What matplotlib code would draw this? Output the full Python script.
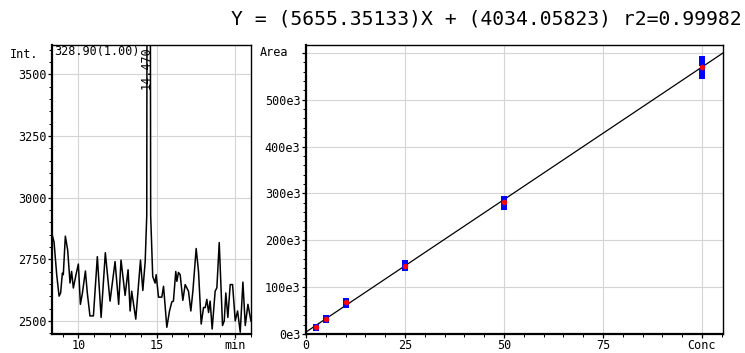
import matplotlib.pyplot as plt
import numpy as np
from matplotlib.ticker import MultipleLocator, FixedLocator, FixedFormatter

plt.rcParams['font.family'] = ['DejaVu Sans Mono']

# chromatogram trace (time in min, intensity)
rt = [8.34, 8.45, 8.62, 8.77, 8.87, 8.98, 9.04, 9.17, 9.32, 9.47, 9.57, 9.68, 9.85,
      10.0, 10.13, 10.26, 10.45, 10.57, 10.74, 10.96, 11.21, 11.45, 11.72, 12.02,
      12.34, 12.57, 12.72, 12.98, 13.17, 13.30, 13.40, 13.66, 13.96, 14.11, 14.26,
      14.36, 14.47, 14.61, 14.74, 14.89, 14.96, 15.11, 15.32, 15.43, 15.64, 15.81,
      15.96, 16.06, 16.21, 16.28, 16.38, 16.49, 16.66, 16.81, 17.02, 17.17, 17.30,
      17.51, 17.66, 17.83, 17.98, 18.09, 18.19, 18.30, 18.40, 18.53, 18.72, 18.83,
      18.98, 19.19, 19.30, 19.40, 19.53, 19.68, 19.83, 20.00, 20.15, 20.32, 20.49,
      20.64, 20.81, 21.00]
inten = [2847, 2820, 2688, 2601, 2614, 2694, 2688, 2844, 2787, 2654, 2701, 2634, 2688,
         2731, 2568, 2614, 2703, 2614, 2521, 2521, 2761, 2515, 2777, 2581,
         2741, 2568, 2747, 2604, 2708, 2541, 2621, 2508, 2747, 2624, 2741,
         2927, 9000, 2927, 2681, 2654, 2688, 2597, 2597, 2641, 2475, 2541,
         2578, 2581, 2701, 2661, 2697, 2688, 2584, 2648, 2621, 2541, 2621,
         2794, 2701, 2488, 2555, 2555, 2588, 2535, 2581, 2468, 2621, 2635,
         2818, 2482, 2501, 2614, 2515, 2648, 2648, 2501, 2541, 2455, 2658,
         2482, 2568, 2501]

# calibration points
conc = [2.5, 2.5, 5, 5, 10, 10, 10, 25, 25, 25, 50, 50, 50, 100, 100, 100, 100]
area = [15e3, 13e3, 33e3, 29e3, 70e3, 66e3, 62e3, 151e3, 146e3, 141e3,
        287e3, 283e3, 271e3, 586e3, 578e3, 560e3, 551e3]
mean_conc = [2.5, 5, 10, 25, 50, 100]
mean_area = [14e3, 31e3, 67.6e3, 145e3, 281.8e3, 570e3]
slope = 5655.35133
intercept = 4034.05823

fig = plt.figure(figsize=(7.45, 3.53), dpi=100)
fs = 8.5
grid_kw = dict(color='#d4d4d4', linewidth=0.8)

# left: chromatogram
ax1 = fig.add_axes([0.0698, 0.054, 0.267, 0.819])
ax1.plot(rt, inten, color='black', linewidth=1.1)
ax1.set_xlim(8.32, 21.0)
ax1.set_ylim(2448, 3619)
ax1.xaxis.set_major_locator(FixedLocator([10, 15, 20]))
ax1.xaxis.set_major_formatter(FixedFormatter(['10', '15', 'min']))
ax1.xaxis.set_minor_locator(MultipleLocator(1))
ax1.yaxis.set_major_locator(MultipleLocator(250))
ax1.yaxis.set_minor_locator(MultipleLocator(50))
ax1.grid(True, which='major', **grid_kw)
ax1.set_axisbelow(True)
ax1.text(0.01, 0.998, '328.90(1.00)', transform=ax1.transAxes, fontsize=fs,
         ha='left', va='top')
ax1.text(14.3, 3615, '14.470', rotation=90, fontsize=fs, ha='center', va='top')
fig.text(10 / 745, 1 - 55 / 353, 'Int.', fontsize=fs, ha='left', va='center')

# right: calibration curve
ax2 = fig.add_axes([0.4107, 0.054, 0.5597, 0.819])
xl = np.array([0, 105.3])
ax2.plot(xl, slope * xl + intercept, color='black', linewidth=0.9, zorder=3)
ax2.plot(conc, area, 's', color='#0000ff', markersize=5, markeredgewidth=0, zorder=4)
ax2.plot(mean_conc, mean_area, 'o', color='#ff0000', markersize=4, markeredgewidth=0, zorder=5)
ax2.set_xlim(0, 105.3)
ax2.set_ylim(0, 617e3)
ax2.xaxis.set_major_locator(FixedLocator([0, 25, 50, 75, 100]))
ax2.xaxis.set_major_formatter(FixedFormatter(['0', '25', '50', '75', 'Conc']))
ax2.xaxis.set_minor_locator(MultipleLocator(5))
ax2.yaxis.set_major_locator(FixedLocator([0, 100e3, 200e3, 300e3, 400e3, 500e3, 600e3]))
ax2.yaxis.set_major_formatter(FixedFormatter(['0e3', '100e3', '200e3', '300e3', '400e3', '500e3', '']))
ax2.yaxis.set_minor_locator(MultipleLocator(20e3))
ax2.grid(True, which='major', **grid_kw)
ax2.set_axisbelow(True)
fig.text(260 / 745, 1 - 53 / 353, 'Area', fontsize=fs, ha='left', va='center')

for ax in (ax1, ax2):
    ax.tick_params(which='major', direction='out', length=3, width=0.9, labelsize=fs, pad=1)
    ax.tick_params(axis='x', which='major', pad=0.5)
    ax.tick_params(which='minor', direction='out', length=2, width=0.7)
    ax.spines['left'].set_linewidth(1.6)
    ax.spines['bottom'].set_linewidth(1.6)
    ax.spines['top'].set_linewidth(1.0)
    ax.spines['right'].set_linewidth(1.0)

fig.text(0.996, 1 - 19 / 353, 'Y = (5655.35133)X + (4034.05823) r2=0.99982',
         fontsize=14.2, ha='right', va='center')

plt.savefig('out.png', dpi=100)
